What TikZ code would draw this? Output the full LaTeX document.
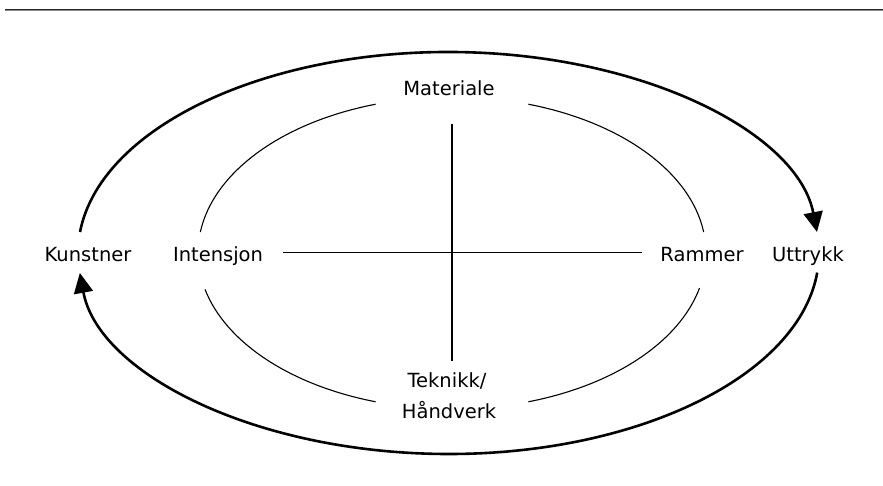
\documentclass[tikz,border=0pt]{standalone}
\usepackage{fontspec}
\setmainfont{DejaVu Sans}
\usetikzlibrary{arrows.meta}
\begin{document}
\begin{tikzpicture}[x=1pt,y=1pt,
  lbl/.style={anchor=base,inner sep=0pt,font=\fontsize{19.5}{31}\selectfont},
  outerarc/.style={line width=2.6pt},
  innerarc/.style={line width=1.1pt},
  tip/.style={-{Triangle[length=20pt,width=19pt]}}]
\useasboundingbox (0,0) rectangle (883,485);
% top rule
\coordinate (ruleL) at (5,475.8);
\coordinate (ruleR) at (883,475.8);
\draw[line width=1.2pt,black!85] (ruleL) -- (ruleR);
\draw[line width=0.6pt,black!45] ([yshift=-1pt]ruleL) -- ([yshift=-1pt]ruleR);
% centres
\coordinate (oc) at (448.5,232);
\coordinate (ic) at (452,232);
% labels
\node[lbl] (kunstner) at (88,223) {Kunstner};
\node[lbl] (intensjon) at (218,223) {Intensjon};
\node[lbl] (rammer) at (702,223) {Rammer};
\node[lbl] (uttrykk) at (808,223) {Uttrykk};
\node[lbl] (materiale) at (449,389) {Materiale};
\node[lbl] (teknikk) at (447,98) {Teknikk/};
\node[lbl] (handverk) at (449,67) {Håndverk};
% outer cycle
\draw[outerarc,tip] (oc) ++(174:370.5 and 201) arc[start angle=174,end angle=6,x radius=370.5,y radius=201];
\draw[outerarc,tip] (oc) ++(-5.6:370.5 and 201) arc[start angle=-5.6,end angle=-174.3,x radius=370.5,y radius=201];
% inner ellipse segments
\draw[innerarc] (ic) ++(172.3:254 and 156) arc[start angle=172.3,end angle=107.5,x radius=254,y radius=156];
\draw[innerarc] (ic) ++(72.5:254 and 156) arc[start angle=72.5,end angle=7.7,x radius=254,y radius=156];
\draw[innerarc] (ic) ++(-13:254 and 156) arc[start angle=-13,end angle=-72.5,x radius=254,y radius=156];
\draw[innerarc] (ic) ++(-107.5:254 and 156) arc[start angle=-107.5,end angle=-166.5,x radius=254,y radius=156];
% cross
\coordinate (vtop) at (452,361);
\coordinate (vbot) at (452,124);
\coordinate (hl) at (283,232.5);
\coordinate (hr) at (642,232.5);
\draw[innerarc] (vtop) -- (vbot);
\draw[innerarc] (hl) -- (hr);
\end{tikzpicture}
\end{document}
